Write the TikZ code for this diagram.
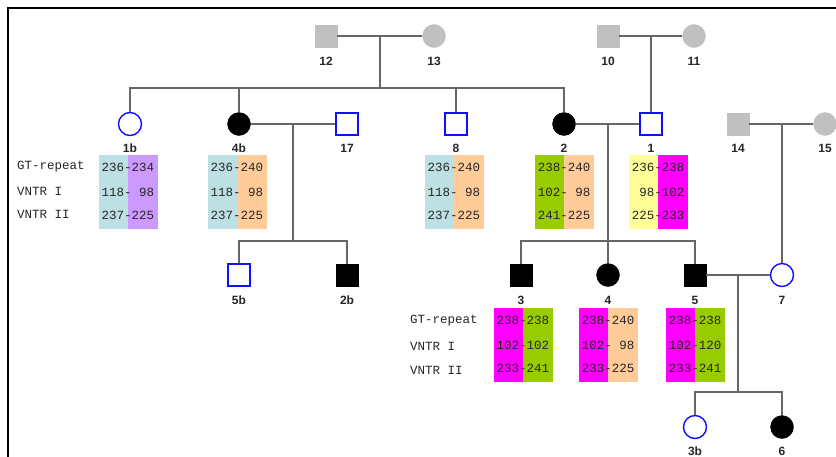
\documentclass[tikz,border=0pt]{standalone}
\usepackage{fontspec}
\setmainfont{Liberation Sans}
\newfontfamily\lblfont{Liberation Sans}
\newfontfamily\monofont{Liberation Mono}
\definecolor{lbluec}{HTML}{BCE0E3}
\definecolor{purplec}{HTML}{CC99FF}
\definecolor{peachc}{HTML}{FFCC99}
\definecolor{greenc}{HTML}{99CC00}
\definecolor{yellowc}{HTML}{FFFF99}
\definecolor{magentac}{HTML}{FF00FF}
\definecolor{greyc}{HTML}{C0C0C0}
\definecolor{linec}{HTML}{666666}
\definecolor{bluec}{HTML}{1010FF}
\tikzset{
  male/.style={rectangle, minimum size=22pt, inner sep=0pt},
  female/.style={circle, minimum size=23pt, inner sep=0pt},
  unaff/.style={draw=bluec, line width=1.4pt, fill=white},
  aff/.style={draw=black, fill=black},
  unk/.style={draw=greyc, fill=greyc},
  lbl/.style={font=\lblfont\bfseries\fontsize{12}{12}\selectfont, inner sep=0pt, text=black!85},
  geno/.style={font=\monofont\fontsize{12.5}{12.5}\selectfont, inner sep=0pt, text=black!85},
  rowlbl/.style={geno, anchor=west},
  link/.style={draw=linec, line width=1.2pt},
}
\newcommand\genobox[8]{%
  \fill[#4] ({#2-29.5},#3) rectangle (#2,{#3+73.5});
  \fill[#5] (#2,#3) rectangle ({#2+29.5},{#3+73.5});
  \node[geno] (#1a) at (#2,{#3+12.5}) {#6};
  \node[geno] (#1b) at (#2,{#3+37}) {#7};
  \node[geno] (#1c) at (#2,{#3+60.5}) {#8};
}
\newcommand\dgsp{\hphantom{0}}
\begin{document}
\begin{tikzpicture}[x=1pt,y=-1pt]
\useasboundingbox (0,0) rectangle (836,456);
\clip (0,0) rectangle (836,456);
\fill[white] (0,0) rectangle (836,456);
\draw[black, line width=2pt] (8,480) -- (8,8) -- (860,8);

% genotype tables
\genobox{g1b}{128}{155}{lbluec}{purplec}{236-234}{118-\dgsp98}{237-225}
\genobox{g4b}{237}{155}{lbluec}{peachc}{236-240}{118-\dgsp98}{237-225}
\genobox{g8}{454}{155}{lbluec}{peachc}{236-240}{118-\dgsp98}{237-225}
\genobox{g2}{564}{155}{greenc}{peachc}{238-240}{102-\dgsp98}{241-225}
\genobox{g1}{658}{155}{yellowc}{magentac}{236-238}{\dgsp98-102}{225-233}
\genobox{g3}{523}{308}{magentac}{greenc}{238-238}{102-102}{233-241}
\genobox{g4}{608}{308}{magentac}{peachc}{238-240}{102-\dgsp98}{233-225}
\genobox{g5}{695}{308}{magentac}{greenc}{238-238}{102-120}{233-241}

\node[rowlbl] (ra1) at (17,167) {GT-repeat};
\node[rowlbl] (ra2) at (17,191) {VNTR I};
\node[rowlbl] (ra3) at (17,214) {VNTR II};
\node[rowlbl] (rb1) at (410,321) {GT-repeat};
\node[rowlbl] (rb2) at (410,346) {VNTR I};
\node[rowlbl] (rb3) at (410,370) {VNTR II};

% individuals
\node[male,unk] (n12) at (326,36) {};
\node[female,unk] (n13) at (434,36) {};
\node[male,unk] (n10) at (608,36) {};
\node[female,unk] (n11) at (694,36) {};
\node[female,unaff] (n1b) at (130,124) {};
\node[female,aff] (n4b) at (239,124) {};
\node[male,unaff] (n17) at (347,124) {};
\node[male,unaff] (n8) at (456,124) {};
\node[female,aff] (n2) at (564,124) {};
\node[male,unaff] (n1) at (651,124) {};
\node[male,unk] (n14) at (738,124) {};
\node[female,unk] (n15) at (825,124) {};
\node[male,unaff] (n5b) at (239,275) {};
\node[male,aff] (n2b) at (347,275) {};
\node[male,aff] (n3) at (521,275) {};
\node[female,aff] (n4) at (608,275) {};
\node[male,aff] (n5) at (695,275) {};
\node[female,unaff] (n7) at (782,275) {};
\node[female,unaff] (n3b) at (695,427) {};
\node[female,aff] (n6) at (782,427) {};

% coordinates for connectors
\coordinate (c1213) at (380,36);
\coordinate (sb1) at (380,88);
\coordinate (c4b17) at (293,124);
\coordinate (sb2) at (293,241);
\coordinate (c1011) at (651,36);
\coordinate (c21) at (608,124);
\coordinate (sb3) at (608,241);
\coordinate (c1415) at (782,124);
\coordinate (c57) at (738,275);
\coordinate (sb4) at (738,392);

% connectors
\draw[link] (n12.east) -- (n13.west);
\draw[link] (c1213) -- (sb1);
\draw[link] (n1b.north) |- (sb1);
\draw[link] (n4b.north) |- (sb1);
\draw[link] (n8.north) |- (sb1);
\draw[link] (n2.north) |- (sb1);
\draw[link] (n4b.east) -- (n17.west);
\draw[link] (c4b17) -- (sb2);
\draw[link] (n5b.north) |- (sb2);
\draw[link] (n2b.north) |- (sb2);
\draw[link] (n10.east) -- (n11.west);
\draw[link] (c1011) -- (n1.north);
\draw[link] (n2.east) -- (n1.west);
\draw[link] (c21) -- (n4.north);
\draw[link] (n3.north) |- (sb3);
\draw[link] (n5.north) |- (sb3);
\draw[link] (n14.east) -- (n15.west);
\draw[link] (c1415) -- (n7.north);
\draw[link] (n5.east) -- (n7.west);
\draw[link] (c57) -- (sb4);
\draw[link] (n3b.north) |- (sb4);
\draw[link] (n6.north) |- (sb4);

% labels
\node[lbl] (l12) at (326,61) {12};
\node[lbl] (l13) at (434,61) {13};
\node[lbl] (l10) at (608,61) {10};
\node[lbl] (l11) at (694,61) {11};
\node[lbl] (l1b) at (130,148) {1b};
\node[lbl] (l4b) at (239,148) {4b};
\node[lbl] (l17) at (347,148) {17};
\node[lbl] (l8) at (456,148) {8};
\node[lbl] (l2) at (564,148) {2};
\node[lbl] (l1) at (651,148) {1};
\node[lbl] (l14) at (738,148) {14};
\node[lbl] (l15) at (825,148) {15};
\node[lbl] (l5b) at (239,300) {5b};
\node[lbl] (l2b) at (347,300) {2b};
\node[lbl] (l3) at (521,300) {3};
\node[lbl] (l4) at (608,300) {4};
\node[lbl] (l5) at (695,300) {5};
\node[lbl] (l7) at (782,300) {7};
\node[lbl] (l3b) at (695,451) {3b};
\node[lbl] (l6) at (782,451) {6};
\end{tikzpicture}
\end{document}
